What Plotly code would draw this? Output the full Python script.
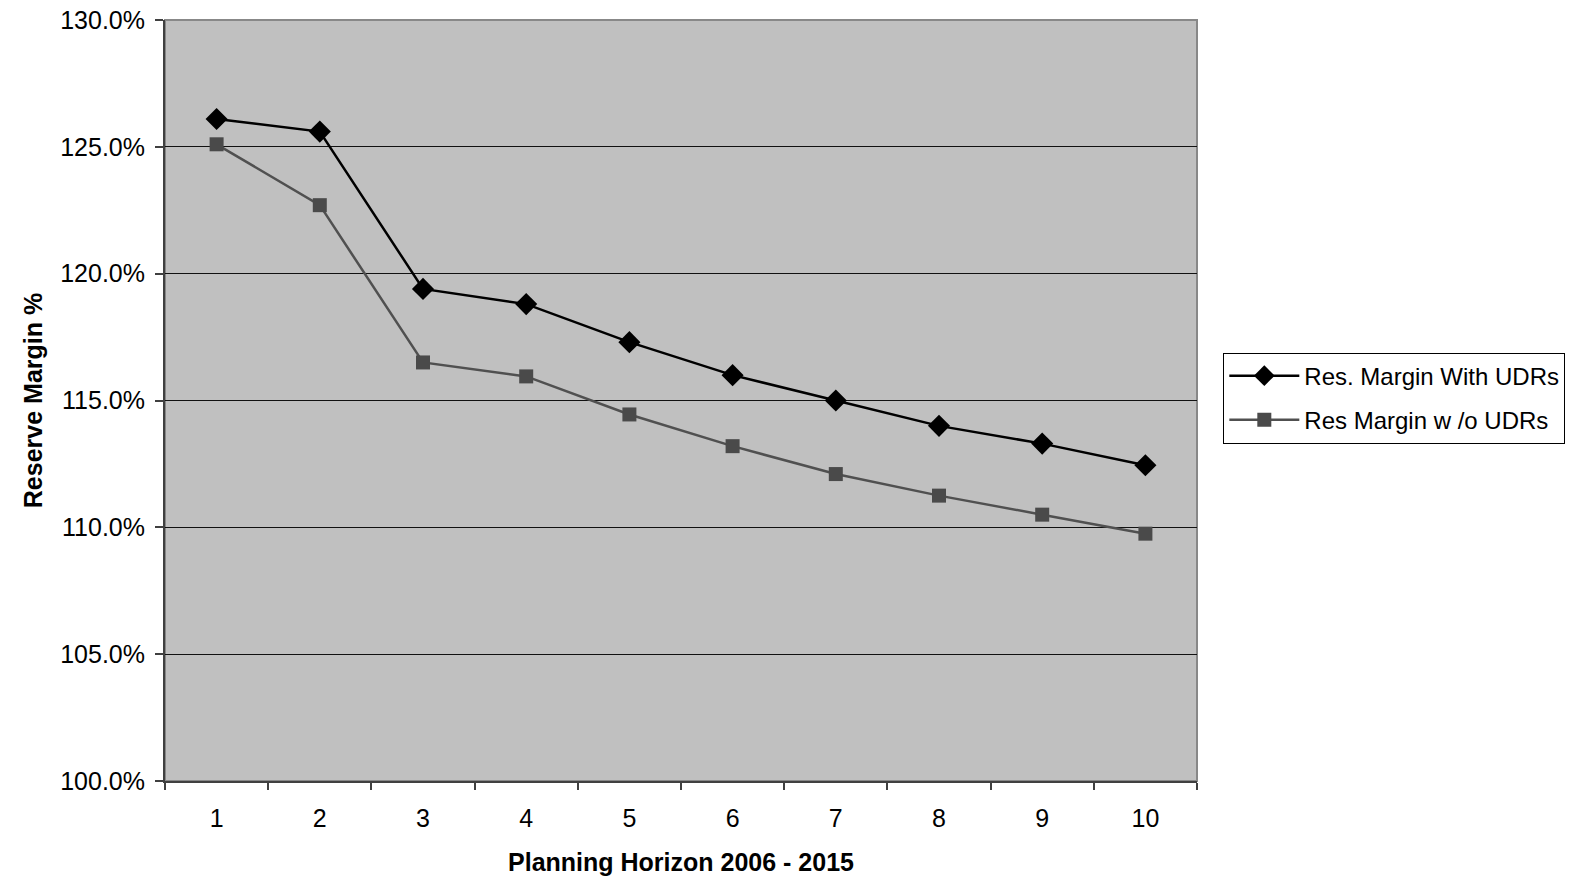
import plotly.graph_objects as go

periods = [1, 2, 3, 4, 5, 6, 7, 8, 9, 10]
with_udrs = [126.1, 125.6, 119.4, 118.8, 117.3, 116.0, 115.0, 114.0, 113.3, 112.45]
without_udrs = [125.1, 122.7, 116.5, 115.95, 114.45, 113.2, 112.1, 111.25, 110.5, 109.75]
y_ticks = [100, 105, 110, 115, 120, 125, 130]
y_tick_text = ["100.0%", "105.0%", "110.0%", "115.0%", "120.0%", "125.0%", "130.0%"]

FONT = "Liberation Sans, Arial, sans-serif"

fig = go.Figure()
fig.add_trace(go.Scatter(
    x=periods, y=with_udrs, name="Res. Margin With UDRs", mode="lines+markers",
    legendgroup="a",
    line=dict(color="#000000", width=2.5),
    marker=dict(symbol="diamond", size=17, color="#000000"),
))
fig.add_trace(go.Scatter(
    x=periods, y=without_udrs, name="Res Margin w /o UDRs", mode="lines+markers",
    legendgroup="b",
    line=dict(color="#505050", width=2.5),
    marker=dict(symbol="square", size=14, color="#4a4a4a"),
))

fig.update_layout(
    width=1579, height=884,
    margin=dict(l=165, r=382, t=20, b=103),
    paper_bgcolor="white", plot_bgcolor="#c0c0c0",
    font=dict(family=FONT, size=25, color="#000000"),
    showlegend=True,
    legend=dict(
        x=1.0255, y=0.563, xanchor="left", yanchor="top",
        bgcolor="white", bordercolor="#000000", borderwidth=1,
        font=dict(family=FONT, size=24, color="#000000"),
        itemwidth=70, tracegroupgap=10,
    ),
    xaxis=dict(
        range=[0.5, 10.5], tickvals=periods, ticktext=[str(p) for p in periods],
        showgrid=False, zeroline=False, automargin=False,
        ticks="outside", ticklen=0, ticklabelstandoff=14,
        showline=True, linecolor="#404040", linewidth=2,
        minor=dict(tick0=0.5, dtick=1, ticks="outside", ticklen=7, tickcolor="#404040", tickwidth=1.5, showgrid=False),
        title=dict(text="<b>Planning Horizon 2006 - 2015</b>", font=dict(family=FONT, size=25), standoff=22),
        tickfont=dict(family=FONT, size=25),
    ),
    yaxis=dict(
        range=[100, 130], tickvals=y_ticks, ticktext=y_tick_text,
        showgrid=True, gridcolor="#111111", gridwidth=1, zeroline=False, automargin=False,
        ticks="outside", ticklen=8, tickcolor="#404040", tickwidth=1.5, ticklabelstandoff=5,
        showline=True, linecolor="#404040", linewidth=2,
        title=dict(text="<b>Reserve Margin %</b>", font=dict(family=FONT, size=25), standoff=10),
        tickfont=dict(family=FONT, size=25),
    ),
    shapes=[dict(type="rect", xref="paper", yref="paper", x0=0, x1=1, y0=0, y1=1,
                 line=dict(color="#888888", width=2), layer="below")],
)

fig.write_html("out.html")
